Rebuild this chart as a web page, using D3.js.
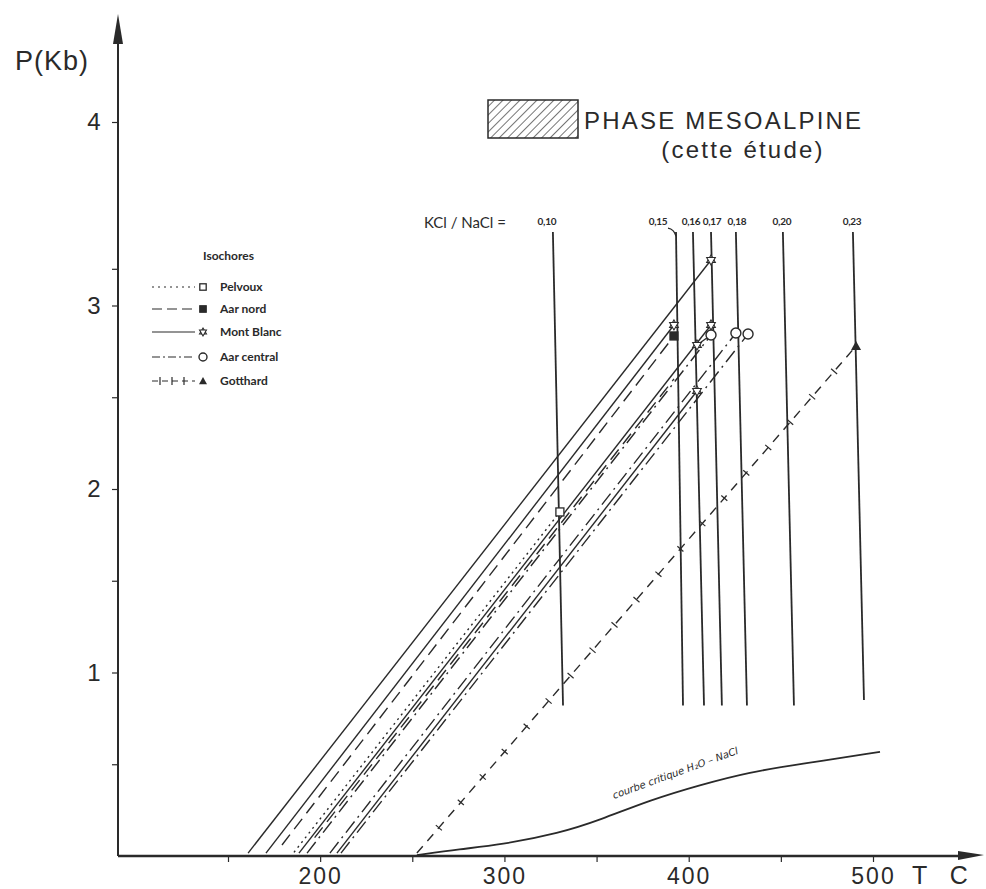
<!DOCTYPE html>
<html><head><meta charset="utf-8">
<script src="https://cdn.jsdelivr.net/npm/d3@7"></script>
<style>
body{margin:0;background:#fff;}
svg{display:block;}
</style></head>
<body>
<svg id="chart" width="986" height="889"></svg>
<script>
// ---------- data ----------
const xTickValues = [150, 200, 250, 300, 350, 400, 450, 500];
const xTickLabels = [200, 300, 400, 500];
const yTickValues = [0.5, 1, 1.5, 2, 2.5, 3, 3.2, 4];
const yTickLabels = [1, 2, 3, 4];

// KCl/NaCl geothermometer verticals: label, T at top, T at bottom
const ratioLabels = ["0,10", "0,15", "0,16", "0,17", "0,18", "0,20", "0,23"];
const ratioTopT   = [326.3, 393.1, 402.3, 412.1, 425.6, 451.1, 489.1];
const ratioBotT   = [331.8, 396.9, 408.3, 418.0, 431.6, 457.1, 495.1];
const ratioTopP = 3.40;
const ratioBotP = 0.82;

// isochores: [T0, P0, T1, P1]
const isoNames  = ["Pelvoux", "Aar nord", "Mont Blanc", "Aar central", "Gotthard"];
const isoStyles = ["dotted", "dashed", "solid", "dashdot", "plus"];
const isoMarks  = ["square", "filledSquare", "star", "circle", "triangle"];
const pelvouxLines   = [[185.8, 0.02, 330.1, 1.875]];
const aarNordLines   = [[179.3, 0.06, 392.0, 2.834], [197.0, 0.10, 392.0, 2.60]];
const montBlancLines = [[160.9, 0.016, 412.1, 3.248], [170.6, 0.016, 392.0, 2.894],
                        [188.5, 0.016, 412.1, 2.894], [209.1, 0.016, 404.5, 2.534]];
const aarCentralLines= [[192.9, 0.016, 412.1, 2.839], [205.3, 0.016, 425.6, 2.850],
                        [211.3, 0.016, 432.2, 2.845]];
const gotthardLines  = [[252.5, 0.016, 490.8, 2.779]];
// markers at line tops
const pelvouxPts    = [[330.1, 1.875]];
const aarNordPts    = [[392.0, 2.834]];
const montBlancPts  = [[412.1, 3.248], [392.0, 2.894], [412.1, 2.894], [404.5, 2.785], [404.5, 2.534]];
const aarCentralPts = [[412.1, 2.839], [425.6, 2.850], [432.2, 2.845]];
const gotthardPts   = [[490.8, 2.779]];
const linkSegments  = [[404.5, 2.785, 412.1, 2.839]];

// critical curve H2O-NaCl
const critT = [252.5, 275.9, 297.6, 330.1, 351.8, 379.0, 406.0, 433.2, 460.4, 503.8];
const critP = [0.005, 0.038, 0.060, 0.125, 0.196, 0.305, 0.387, 0.458, 0.501, 0.567];

// ---------- drawing ----------
const svg = d3.select("#chart");
const x = d3.scaleLinear().domain([150, 500]).range([228, 873]);
const y = d3.scaleLinear().domain([0, 4]).range([856, 122]);
const ink = "#2a2a2a";

const defs = svg.append("defs");
const pat = defs.append("pattern").attr("id","hatch").attr("patternUnits","userSpaceOnUse")
  .attr("width",6).attr("height",6).attr("patternTransform","rotate(45)");
pat.append("line").attr("x1",0).attr("y1",0).attr("x2",0).attr("y2",6)
  .attr("stroke",ink).attr("stroke-width",1.3);

// axes
const xAxis = d3.axisBottom(x).tickValues(xTickValues).tickSize(6)
  .tickFormat(d => xTickLabels.includes(d) ? d : "");
const gx = svg.append("g").attr("transform", `translate(0,${y(0)})`).call(xAxis);
gx.select(".domain").remove();
gx.selectAll(".tick line").attr("stroke", ink).attr("stroke-width", 1.2);
gx.selectAll(".tick text").attr("font-family","Liberation Sans, Arial, sans-serif")
  .attr("font-size", 23).attr("fill", ink).attr("y", 28).attr("dy", "0").attr("letter-spacing", "2px");

const yAxis = d3.axisLeft(y).tickValues(yTickValues).tickSize(6)
  .tickFormat(d => yTickLabels.includes(d) ? d : "");
const gy = svg.append("g").attr("transform", `translate(118,0)`).call(yAxis);
gy.select(".domain").remove();
gy.selectAll(".tick line").attr("stroke", ink).attr("stroke-width", 1.2);
gy.selectAll(".tick text").attr("font-family","Liberation Sans, Arial, sans-serif")
  .attr("font-size", 24).attr("fill", ink).attr("dx", "-0.35em");

// axis lines with arrows
svg.append("line").attr("x1",118).attr("y1",y(0)).attr("x2",960).attr("y2",y(0))
  .attr("stroke",ink).attr("stroke-width",2.4);
svg.append("path").attr("d",`M958,${y(0)-5} L984,${y(0)-1} L958,${y(0)+4} Z`).attr("fill",ink);
svg.append("line").attr("x1",118).attr("y1",y(0)).attr("x2",118).attr("y2",30)
  .attr("stroke",ink).attr("stroke-width",2);
svg.append("path").attr("d","M113,44 L118,14 L123,44 Z").attr("fill",ink);

svg.append("text").attr("x",15).attr("y",70).text("P(Kb)")
  .attr("font-family","Liberation Sans, Arial, sans-serif").attr("font-size",27).attr("fill",ink)
  .attr("letter-spacing","1px");
svg.append("text").attr("x",912).attr("y",884).text("T C")
  .attr("font-family","Liberation Sans, Arial, sans-serif").attr("font-size",25).attr("fill",ink)
  .attr("letter-spacing","8px");

// vertical ratio lines
const labelShift = [-6, -18, -2, 1, 1, -1, -1];
const rg = svg.append("g");
ratioLabels.forEach((lab, i) => {
  const xt = x(ratioTopT[i]);
  rg.append("line").attr("x1", xt).attr("y1", y(ratioTopP))
    .attr("x2", x(ratioBotT[i])).attr("y2", y(i === 6 ? ratioBotP + 0.03 : ratioBotP))
    .attr("stroke", ink).attr("stroke-width", 1.8);
  rg.append("text").attr("x", xt + labelShift[i]).attr("y", 225).text(lab)
    .attr("text-anchor","middle").attr("font-family","Lato, DejaVu Sans, sans-serif")
    .attr("font-size", 10).attr("font-weight","bold").attr("fill", ink).attr("letter-spacing","-0.3px");
  if (i === 1) {
    rg.append("path").attr("d", `M${xt - 8},${y(ratioTopP) - 4} Q${xt - 2},${y(ratioTopP) - 3} ${xt},${y(ratioTopP) + 4}`)
      .attr("fill","none").attr("stroke",ink).attr("stroke-width",1.3);
  }
});
svg.append("text").attr("x",424).attr("y",228).text("KCl / NaCl  =")
  .attr("font-family","Lato, DejaVu Sans, sans-serif").attr("font-size",15).attr("fill",ink);

// isochore lines
const dash = {solid:null, dotted:"2,4", dashed:"13,7", dashdot:"14,5,2,5", plus:"9,7"};
const groups = [pelvouxLines, aarNordLines, montBlancLines, aarCentralLines, gotthardLines];
const lineG = svg.append("g");
groups.forEach((arr, gi) => {
  arr.forEach(s => {
    lineG.append("line").attr("x1", x(s[0])).attr("y1", y(s[1])).attr("x2", x(s[2])).attr("y2", y(s[3]))
      .attr("stroke", ink).attr("stroke-width", 1.4)
      .attr("stroke-dasharray", dash[isoStyles[gi]]);
    if (isoStyles[gi] === "plus") {
      const n = 20;
      const ang = Math.atan2(y(s[3]) - y(s[1]), x(s[2]) - x(s[0]));
      for (let k = 1; k < n; k++) {
        const px = x(s[0]) + (x(s[2]) - x(s[0])) * k / n;
        const py = y(s[1]) + (y(s[3]) - y(s[1])) * k / n;
        const nx = -Math.sin(ang) * 4, ny = Math.cos(ang) * 4;
        lineG.append("line").attr("x1", px - nx).attr("y1", py - ny).attr("x2", px + nx).attr("y2", py + ny)
          .attr("stroke", ink).attr("stroke-width", 1.2);
      }
    }
  });
});
linkSegments.forEach(s => {
  lineG.append("line").attr("x1", x(s[0])).attr("y1", y(s[1])).attr("x2", x(s[2])).attr("y2", y(s[3]))
    .attr("stroke", ink).attr("stroke-width", 1.3);
});

// markers
function drawMarker(g, type, cx, cy, size) {
  const s = size || 1;
  if (type === "square" || type === "filledSquare") {
    g.append("rect").attr("x", cx - 4*s).attr("y", cy - 4*s).attr("width", 8*s).attr("height", 8*s)
      .attr("fill", type === "square" ? "#fff" : ink).attr("stroke", ink).attr("stroke-width", 1.3);
  } else if (type === "circle") {
    g.append("circle").attr("cx", cx).attr("cy", cy).attr("r", 5*s)
      .attr("fill", "#fff").attr("stroke", ink).attr("stroke-width", 1.4);
  } else if (type === "triangle") {
    g.append("path").attr("d", `M${cx},${cy-5*s} L${cx+5*s},${cy+4*s} L${cx-5*s},${cy+4*s} Z`).attr("fill", ink);
  } else if (type === "star") {
    const r = 5*s;
    const p1 = [0,1,2].map(k => { const a = -Math.PI/2 + k*2*Math.PI/3; return [cx + r*Math.cos(a), cy + r*Math.sin(a)]; });
    const p2 = [0,1,2].map(k => { const a = Math.PI/2 + k*2*Math.PI/3; return [cx + r*Math.cos(a), cy + r*Math.sin(a)]; });
    [p1, p2].forEach(p => g.append("path").attr("d", "M" + p.join("L") + "Z")
      .attr("fill", "#fff").attr("stroke", ink).attr("stroke-width", 1.1));
  }
}
const ptsGroups = [pelvouxPts, aarNordPts, montBlancPts, aarCentralPts, gotthardPts];
const markG = svg.append("g");
ptsGroups.forEach((arr, gi) => arr.forEach(p => drawMarker(markG, isoMarks[gi], x(p[0]), y(p[1]))));

// critical curve
const critData = critT.map((t, i) => [t, critP[i]]);
svg.append("path").attr("d", d3.line().x(d => x(d[0])).y(d => y(d[1])).curve(d3.curveBasis)(critData))
  .attr("fill","none").attr("stroke",ink).attr("stroke-width",1.8);
svg.append("text").attr("transform", "translate(614,799) rotate(-20)")
  .text("courbe critique   H\u2082O – NaCl")
  .attr("font-family","DejaVu Sans, sans-serif").attr("font-size",10).attr("font-style","italic").attr("fill",ink);

// top legend: hatched box
svg.append("rect").attr("x",488).attr("y",100).attr("width",90).attr("height",38)
  .attr("fill","url(#hatch)").attr("stroke",ink).attr("stroke-width",1.5);
svg.append("text").attr("x",584).attr("y",129).text("PHASE MESOALPINE")
  .attr("font-family","Liberation Sans, Arial, sans-serif").attr("font-size",24).attr("fill",ink)
  .attr("letter-spacing","2.2px");
svg.append("text").attr("x",743).attr("y",158).attr("text-anchor","middle").text("(cette étude)")
  .attr("font-family","Liberation Sans, Arial, sans-serif").attr("font-size",24).attr("fill",ink)
  .attr("letter-spacing","2.2px");

// isochores legend
const lg = svg.append("g");
lg.append("text").attr("x",203).attr("y",260).text("Isochores")
  .attr("font-family","Lato, DejaVu Sans, sans-serif").attr("font-size",12).attr("font-weight","bold").attr("fill",ink);
const legY = [287, 309, 332, 357, 381];
isoNames.forEach((nm, i) => {
  lg.append("line").attr("x1",152).attr("y1",legY[i]).attr("x2",195).attr("y2",legY[i])
    .attr("stroke",ink).attr("stroke-width",1.2).attr("stroke-dasharray", isoStyles[i]==="plus" ? "6,4" : (isoStyles[i]==="dashed" ? "10,5" : (isoStyles[i]==="dashdot" ? "8,3,2,3" : dash[isoStyles[i]])));
  if (isoStyles[i] === "plus") {
    [160, 172, 184].forEach(px => lg.append("line").attr("x1",px).attr("y1",legY[i]-4).attr("x2",px).attr("y2",legY[i]+4)
      .attr("stroke",ink).attr("stroke-width",1.2));
  }
  drawMarker(lg, isoMarks[i], 203, legY[i], 0.8);
  lg.append("text").attr("x",220).attr("y",legY[i]+4).text(nm)
    .attr("font-family","Lato, DejaVu Sans, sans-serif").attr("font-size",12).attr("font-weight","bold").attr("fill",ink);
});
</script>
</body></html>
